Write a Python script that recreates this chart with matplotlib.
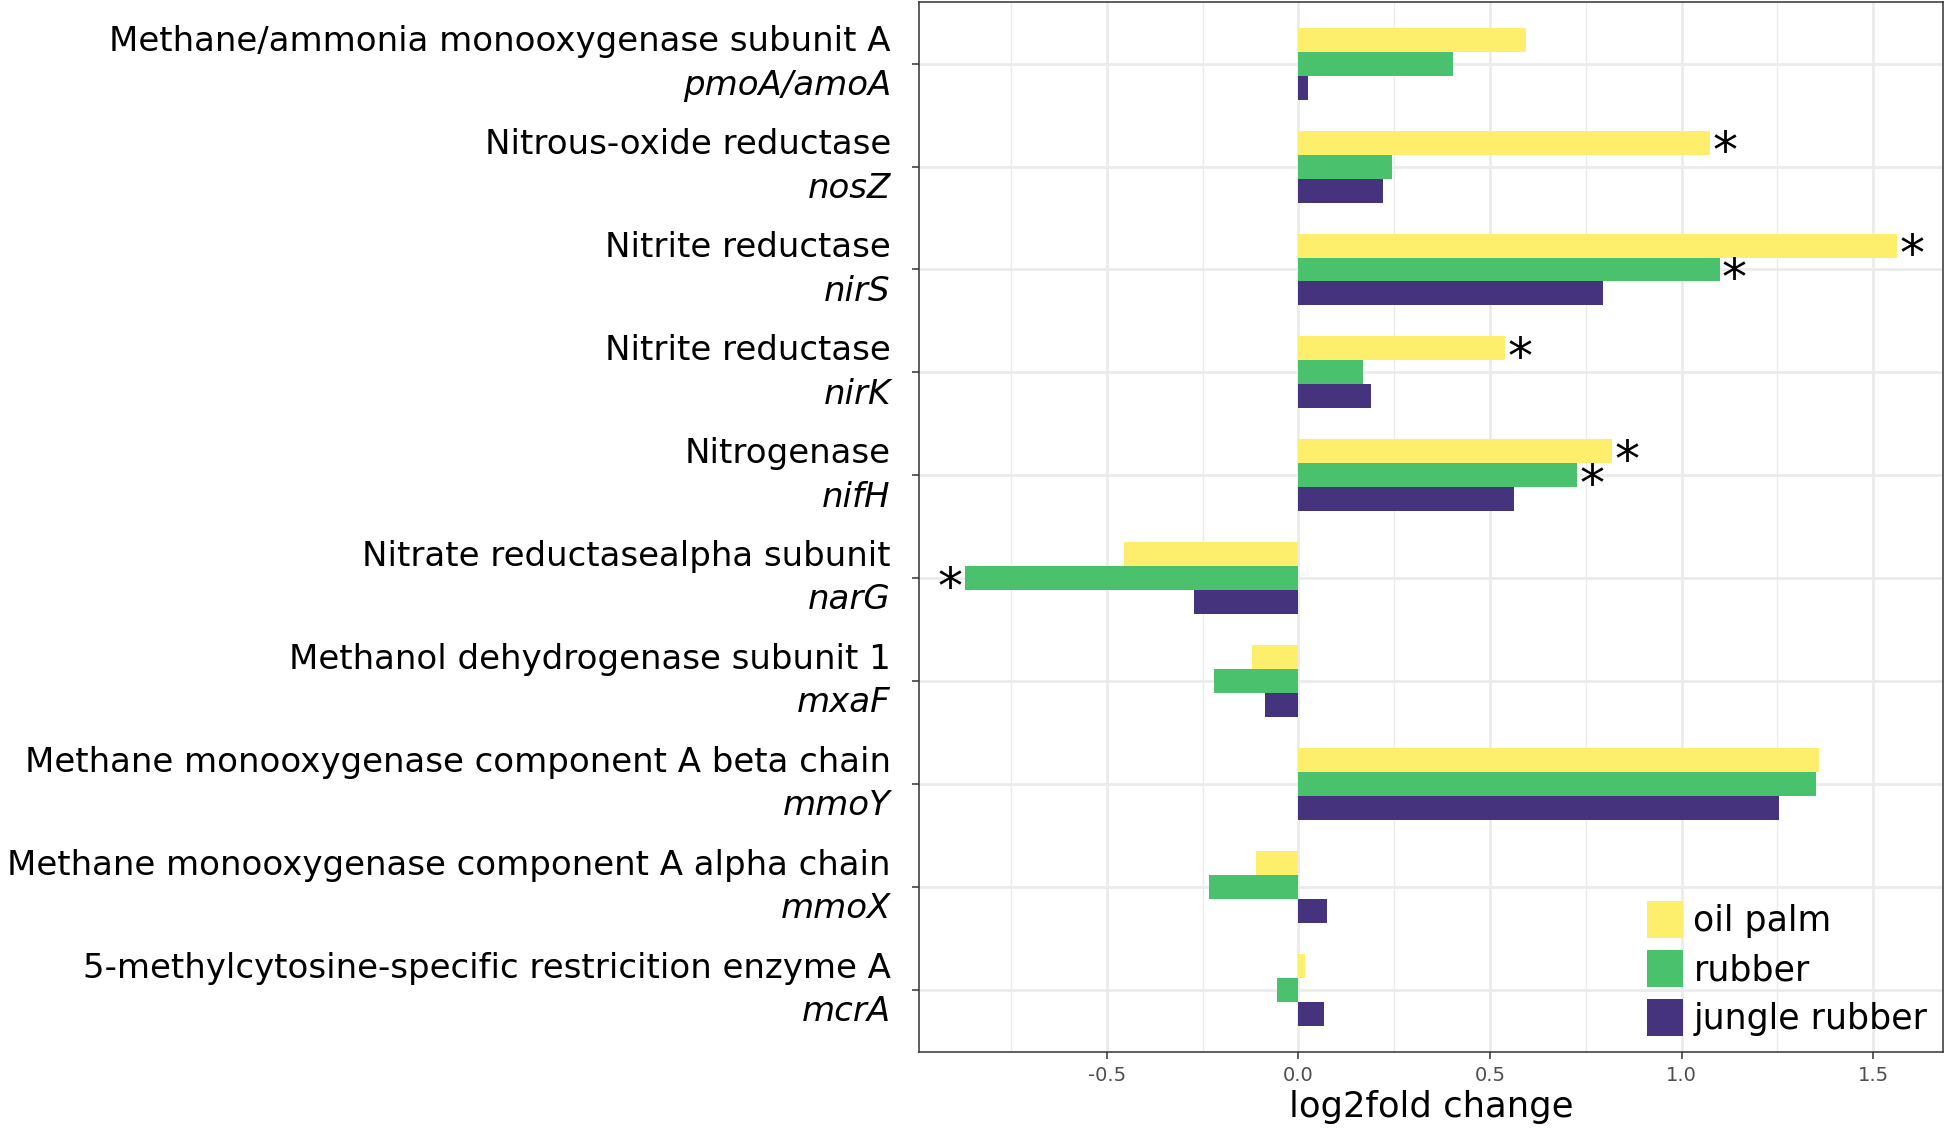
import numpy as np
import matplotlib.pyplot as plt
import matplotlib.transforms as mtransforms

descriptions = [
    "Methane/ammonia monooxygenase subunit A",
    "Nitrous-oxide reductase",
    "Nitrite reductase",
    "Nitrite reductase",
    "Nitrogenase",
    "Nitrate reductasealpha subunit",
    "Methanol dehydrogenase subunit 1",
    "Methane monooxygenase component A beta chain",
    "Methane monooxygenase component A alpha chain",
    "5-methylcytosine-specific restricition enzyme A",
]
genes = ["pmoA/amoA", "nosZ", "nirS", "nirK", "nifH",
         "narG", "mxaF", "mmoY", "mmoX", "mcrA"]

oil_palm = [0.594, 1.074, 1.561, 0.539, 0.819, -0.454, -0.120, 1.359, -0.111, 0.017]
rubber = [0.403, 0.245, 1.099, 0.169, 0.727, -0.871, -0.219, 1.351, -0.233, -0.056]
jungle_rubber = [0.024, 0.222, 0.796, 0.189, 0.563, -0.273, -0.087, 1.253, 0.075, 0.066]

# significance flags (1 = '*')
sig_oil_palm = [0, 1, 1, 1, 1, 0, 0, 0, 0, 0]
sig_rubber = [0, 0, 1, 0, 1, 1, 0, 0, 0, 0]
sig_jungle = [0] * 10

series = [
    ("oil palm", oil_palm, sig_oil_palm, "#FDEE6C"),
    ("rubber", rubber, sig_rubber, "#4AC16D"),
    ("jungle rubber", jungle_rubber, sig_jungle, "#46337E"),
]

fig = plt.figure(figsize=(19.46, 11.28), dpi=100)
ax = fig.add_axes([0.472, 0.0674, 0.5265, 0.931])

y = np.arange(len(genes))
w = 0.233
for k, (name, vals, sig, col) in enumerate(series):
    yy = y + (k - 1) * w
    ax.barh(yy, vals, height=w, color=col, label=name, zorder=2)
    for yi, v, s in zip(yy, vals, sig):
        if s:
            ax.text(v + (0.006 if v > 0 else -0.006), yi + 0.1, "*",
                    ha="left" if v > 0 else "right", va="center",
                    fontsize=36, zorder=3)

ax.set_xlim(-0.991, 1.682)
ax.set_ylim(len(genes) - 0.4, -0.6)

ax.set_xticks([-0.5, 0, 0.5, 1.0, 1.5], ["-0.5", "0.0", "0.5", "1.0", "1.5"])
ax.set_xticks([-0.75, -0.25, 0.25, 0.75, 1.25], minor=True)
ax.set_yticks(y, [""] * len(y))
ax.tick_params(axis="x", labelsize=14, colors="#333333", labelcolor="#4D4D4D",
               length=5, width=1.1, pad=5)
ax.tick_params(axis="x", which="minor", length=0)
ax.tick_params(axis="y", length=5, width=1.1, colors="#333333")
ax.grid(True, which="major", color="#EBEBEB", lw=2.0, zorder=0)
ax.grid(True, which="minor", axis="x", color="#EBEBEB", lw=1.0, zorder=0)
ax.set_axisbelow(True)
for sp in ax.spines.values():
    sp.set_color("#333333")
    sp.set_linewidth(1.1)

trans = mtransforms.blended_transform_factory(ax.transAxes, ax.transData)
for yi, d, g in zip(y, descriptions, genes):
    ax.text(-0.027, yi - 0.21, d, transform=trans, ha="right", va="center",
            fontsize=24.5, color="black")
    ax.text(-0.027, yi + 0.21, g, transform=trans, ha="right", va="center",
            fontsize=24.5, style="italic", color="black")

ax.set_xlabel("log2fold change", fontsize=25.5, labelpad=4)

ax.legend(loc="lower right", frameon=False, fontsize=25, handlelength=1.05,
          handleheight=1.25, handletextpad=0.3, labelspacing=0.35,
          borderaxespad=0.05, bbox_to_anchor=(1.0, 0.0))

fig.savefig("out.png", dpi=100)
